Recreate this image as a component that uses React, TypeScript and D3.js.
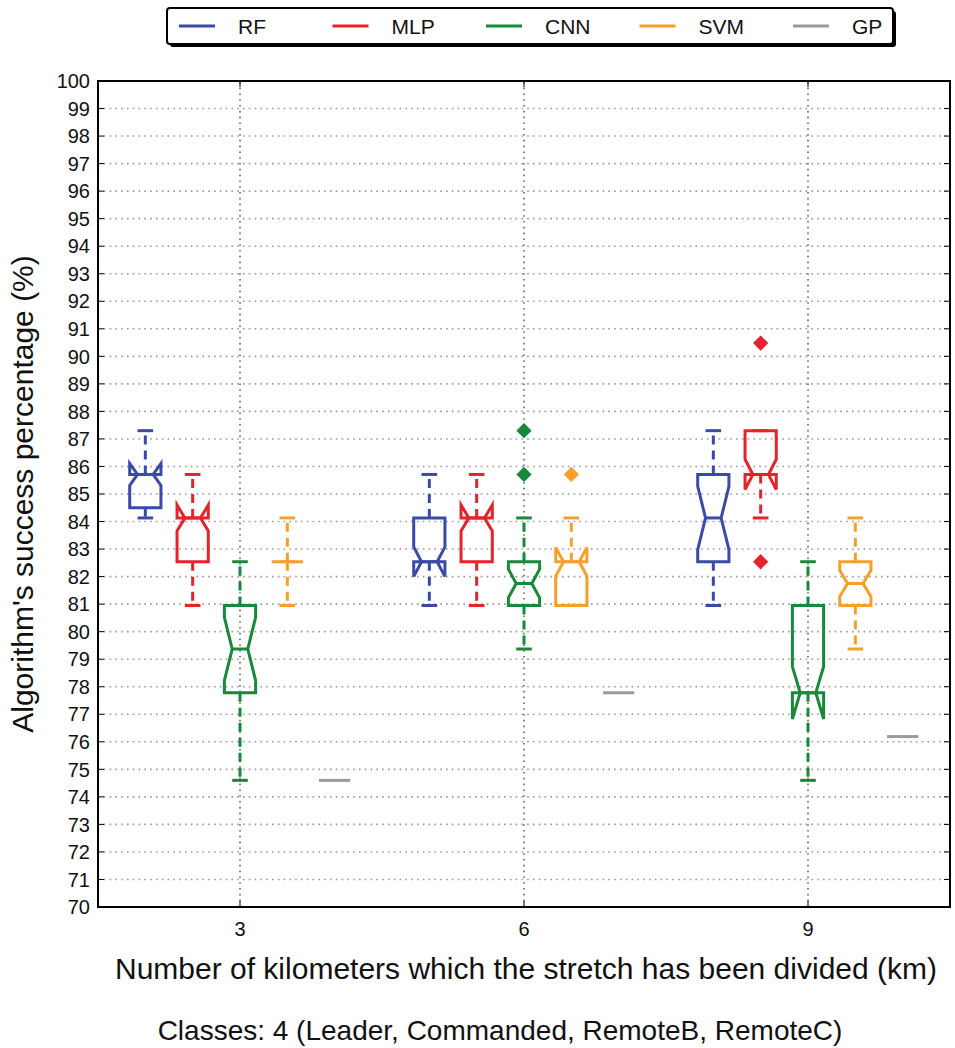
import React from "react";
import * as d3 from "d3";

// summary statistics, one entry per group (3, 6, 9 km)
type Box = { lo: number; q1: number; med: number; q3: number; hi: number; notch: number; out: number[] };

const groups = [3, 6, 9];
const algorithms = ["RF", "MLP", "CNN", "SVM", "GP"];
const offsets = [-1, -0.5, 0, 0.5, 1];
const colors = ["#3a4aa6", "#e5232b", "#16893a", "#f5a02c", "#9a9a9a"];

const rfBoxes: Box[] = [
  { lo: 84.13, q1: 84.5, med: 85.71, q3: 85.71, hi: 87.3, notch: 0.4, out: [] },
  { lo: 80.95, q1: 82.54, med: 82.54, q3: 84.13, hi: 85.71, notch: 0.54, out: [] },
  { lo: 80.95, q1: 82.54, med: 84.13, q3: 85.71, hi: 87.3, notch: 1.15, out: [] },
];
const mlpBoxes: Box[] = [
  { lo: 80.95, q1: 82.54, med: 84.13, q3: 84.13, hi: 85.71, notch: 0.47, out: [] },
  { lo: 80.95, q1: 82.54, med: 84.13, q3: 84.13, hi: 85.71, notch: 0.47, out: [] },
  { lo: 84.13, q1: 85.71, med: 85.71, q3: 87.3, hi: 87.3, notch: 0.55, out: [90.48, 82.54] },
];
const cnnBoxes: Box[] = [
  { lo: 74.6, q1: 77.78, med: 79.37, q3: 80.95, hi: 82.54, notch: 1.15, out: [] },
  { lo: 79.37, q1: 80.95, med: 81.75, q3: 82.54, hi: 84.13, notch: 0.52, out: [87.3, 85.71] },
  { lo: 74.6, q1: 77.78, med: 77.78, q3: 80.95, hi: 82.54, notch: 0.95, out: [] },
];
const svmBoxes: Box[] = [
  { lo: 80.95, q1: 82.54, med: 82.54, q3: 82.54, hi: 84.13, notch: 0, out: [] },
  { lo: 80.95, q1: 80.95, med: 82.54, q3: 82.54, hi: 84.13, notch: 0.52, out: [85.71] },
  { lo: 79.37, q1: 80.95, med: 81.75, q3: 82.54, hi: 84.13, notch: 0.48, out: [] },
];
const gpBoxes: Box[] = [
  { lo: 74.6, q1: 74.6, med: 74.6, q3: 74.6, hi: 74.6, notch: 0, out: [] },
  { lo: 77.78, q1: 77.78, med: 77.78, q3: 77.78, hi: 77.78, notch: 0, out: [] },
  { lo: 76.19, q1: 76.19, med: 76.19, q3: 76.19, hi: 76.19, notch: 0, out: [] },
];
const allBoxes = [rfBoxes, mlpBoxes, cnnBoxes, svmBoxes, gpBoxes];

const yTicks = d3.range(70, 101);

const width = 955;
const height = 1048;
const margin = { top: 81, right: 5, bottom: 141, left: 98 };
const boxWidth = 0.33;
const font = "'Liberation Sans', Arial, Helvetica, sans-serif";

export default function App() {
  const x = d3.scaleLinear().domain([1.5, 10.5]).range([margin.left, width - margin.right]);
  const y = d3.scaleLinear().domain([70, 100]).range([height - margin.bottom, margin.top]);
  const x0 = x.range()[0], x1 = x.range()[1];
  const y0 = y.range()[0], y1 = y.range()[1];

  const line = d3.line<[number, number]>().x(d => x(d[0])).y(d => y(d[1]));

  // notched box outline, same point order as matplotlib's bxp
  const boxPath = (pos: number, b: Box) => {
    const l = pos - boxWidth / 2, r = pos + boxWidth / 2;
    const cl = pos - boxWidth / 4, cr = pos + boxWidth / 4;
    const lo = b.med - b.notch, hi = b.med + b.notch;
    const pts: [number, number][] = [
      [l, b.q1], [l, lo], [cl, b.med], [l, hi], [l, b.q3],
      [r, b.q3], [r, hi], [cr, b.med], [r, lo], [r, b.q1], [l, b.q1],
    ];
    return line(pts) + "Z";
  };

  const diamond = d3.symbol().type(d3.symbolDiamond2).size(150)();

  const legendX = 167, legendY = 8, legendW = 726, legendH = 36;

  return (
    <div style={{ position: "absolute", left: 0, top: 0 }}>
      <svg width={width} height={height} style={{ display: "block", background: "#fff" }} fontFamily={font}>
        {/* grid */}
        {yTicks.slice(1, -1).map(t => (
          <line key={"gy" + t} x1={x0} x2={x1} y1={y(t)} y2={y(t)} stroke="#9a9a9a" strokeWidth={1.6} strokeDasharray="1.6,4.2" />
        ))}
        {groups.map(g => (
          <line key={"gx" + g} x1={x(g)} x2={x(g)} y1={y0} y2={y1} stroke="#666" strokeWidth={1.6} strokeDasharray="1.6,4.2" />
        ))}

        {/* boxes */}
        {allBoxes.map((boxes, ai) =>
          boxes.map((b, gi) => {
            const pos = groups[gi] + offsets[ai];
            const c = colors[ai];
            const capL = x(pos - boxWidth / 4), capR = x(pos + boxWidth / 4);
            if (algorithms[ai] === "GP") {
              return (
                <line key={ai + "-" + gi} x1={x(pos - boxWidth / 2)} x2={x(pos + boxWidth / 2)} y1={y(b.med)} y2={y(b.med)} stroke={c} strokeWidth={3} />
              );
            }
            return (
              <g key={ai + "-" + gi} stroke={c} fill="none" strokeWidth={3}>
                <line x1={x(pos)} x2={x(pos)} y1={y(b.q1)} y2={y(b.lo)} strokeDasharray="9,6" />
                <line x1={x(pos)} x2={x(pos)} y1={y(b.q3)} y2={y(b.hi)} strokeDasharray="9,6" />
                <line x1={capL} x2={capR} y1={y(b.lo)} y2={y(b.lo)} />
                <line x1={capL} x2={capR} y1={y(b.hi)} y2={y(b.hi)} />
                <path d={boxPath(pos, b)} strokeLinejoin="miter" />
                <line x1={capL} x2={capR} y1={y(b.med)} y2={y(b.med)} />
                {b.out.map((o, oi) => (
                  <path key={oi} d={diamond!} transform={`translate(${x(pos)},${y(o)})`} fill={c} stroke="none" />
                ))}
              </g>
            );
          })
        )}

        {/* ticks */}
        {yTicks.map(t => (
          <g key={"t" + t}>
            <line x1={x0} x2={x0 + 6} y1={y(t)} y2={y(t)} stroke="#000" strokeWidth={1} />
            <line x1={x1} x2={x1 - 6} y1={y(t)} y2={y(t)} stroke="#000" strokeWidth={1} />
            <text x={x0 - 8} y={y(t)} dy="0.36em" textAnchor="end" fontSize={20} fill="#111">{t}</text>
          </g>
        ))}
        {groups.map(g => (
          <g key={"xt" + g}>
            <line x1={x(g)} x2={x(g)} y1={y0} y2={y0 - 6} stroke="#000" />
            <line x1={x(g)} x2={x(g)} y1={y1} y2={y1 + 6} stroke="#000" />
            <text x={x(g)} y={y0 + 29} textAnchor="middle" fontSize={20} fill="#111">{g}</text>
          </g>
        ))}

        {/* frame */}
        <rect x={x0} y={y1} width={x1 - x0} height={y0 - y1} fill="none" stroke="#000" strokeWidth={2} />

        {/* axis labels */}
        <text transform={`translate(33,${(y0 + y1) / 2}) rotate(-90)`} textAnchor="middle" fontSize={30} fill="#111">
          Algorithm's success percentage (%)
        </text>
        <text x={526} y={979} textAnchor="middle" fontSize={30} fill="#111">
          Number of kilometers which the stretch has been divided (km)
        </text>
        <text x={500} y={1040} textAnchor="middle" fontSize={28} fill="#111">
          Classes: 4 (Leader, Commanded, RemoteB, RemoteC)
        </text>

        {/* legend */}
        <rect x={legendX + 3} y={legendY + 3} width={legendW} height={legendH} rx={3} fill="#000" />
        <rect x={legendX} y={legendY} width={legendW} height={legendH} rx={3} fill="#fff" stroke="#000" strokeWidth={2} />
        {algorithms.map((a, i) => {
          const lx = legendX + 12 + i * 153.5;
          return (
            <g key={a}>
              <line x1={lx} x2={lx + 36} y1={legendY + legendH / 2} y2={legendY + legendH / 2} stroke={colors[i]} strokeWidth={3} />
              <text x={lx + 59} y={legendY + legendH / 2} dy="0.36em" fontSize={21} fill="#111">{a}</text>
            </g>
          );
        })}
      </svg>
    </div>
  );
}
